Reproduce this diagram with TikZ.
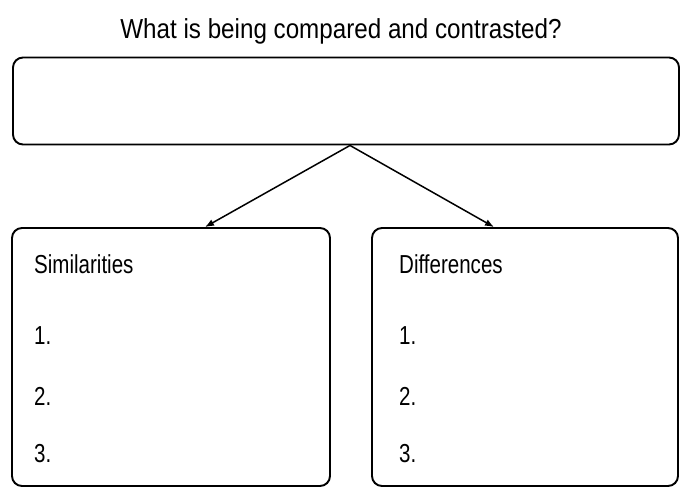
\documentclass[tikz,border=0pt]{standalone}
\usepackage{fontspec}
\setmainfont{Liberation Sans}
\newfontfamily\labelfont[FakeStretch=0.79]{Liberation Sans}
\newfontfamily\titlefont[FakeStretch=0.88]{Liberation Sans}
\usepackage{tikz}
\usetikzlibrary{arrows.meta,positioning}

\begin{document}
\begin{tikzpicture}[
  x=1pt,y=-1pt,
  box/.style={draw,rounded corners=10pt,line width=1.9pt,fill=white},
  label/.style={anchor=base west,inner sep=0pt,font=\labelfont\fontsize{26}{30}\selectfont},
  arrow/.style={-{Latex[length=9pt,width=7pt]},line width=1.5pt}
]
\useasboundingbox[fill=white] (0,0) rectangle (681,488);
\node[anchor=base,inner sep=0pt,font=\titlefont\fontsize{27.5}{32}\selectfont] (title) at (341,38) {What is being compared and contrasted?};
\node[box,minimum width=666pt,minimum height=87pt] (topic) at (346,101) {};
\node[box,minimum width=318pt,minimum height=258pt] (sim) at (171,357) {};
\node[box,minimum width=306pt,minimum height=258pt] (diff) at (525,357) {};
% left column
\node[label] (simhead) at (34,273) {Similarities};
\node[label] (sim1) at (34,344) {1.};
\node[label] (sim2) at (34,405) {2.};
\node[label] (sim3) at (34,462) {3.};
% right column
\node[label] (diffhead) at (399,273) {Differences};
\node[label] (diff1) at (399,344) {1.};
\node[label] (diff2) at (399,405) {2.};
\node[label] (diff3) at (399,462) {3.};
\draw[arrow] ([xshift=4pt]topic.south) -- ([xshift=34pt]sim.north);
\draw[arrow] ([xshift=4pt]topic.south) -- ([xshift=-31pt]diff.north);
\end{tikzpicture}
\end{document}
